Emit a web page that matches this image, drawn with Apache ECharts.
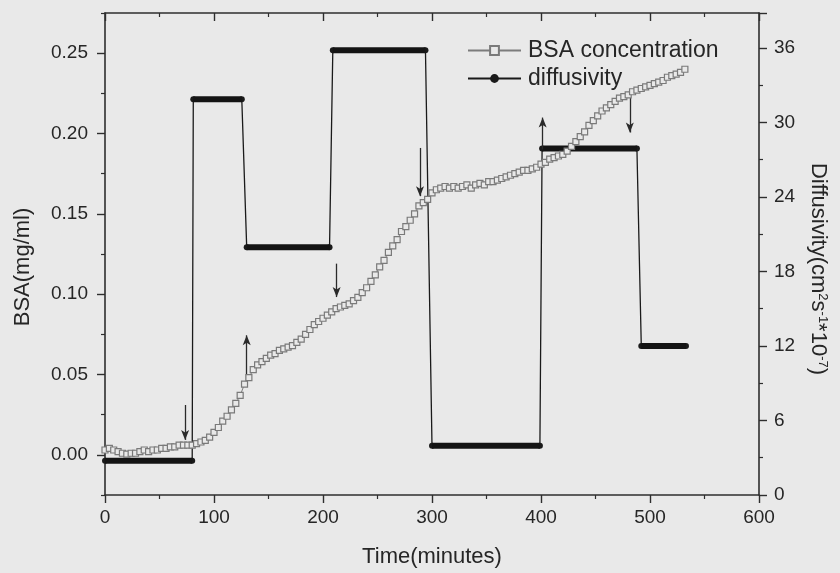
<!DOCTYPE html>
<html>
<head>
<meta charset="utf-8">
<script src="https://cdn.jsdelivr.net/npm/echarts@6/dist/echarts.min.js"></script>
<style>
html,body{margin:0;padding:0;background:#e9e9e9;}
#chart{width:840px;height:573px;}
</style>
</head>
<body>
<div id="chart"></div>
<script>
// BSA concentration (mg/ml) vs time (minutes)
const bsaTime = [0,4,8,12,16,20,24,28,32,36,40,44,48,52,56,60,64,68,72,76,80,84,88,92,96,100,104,108,112,116,120,124,128,132,136,140,144,148,152,156,160,164,168,172,176,180,184,188,192,196,200,204,208,212,216,220,224,228,232,236,240,244,248,252,256,260,264,268,272,276,280,284,288,292,296,300,304,308,312,316,320,324,328,332,336,340,344,348,352,356,360,364,368,372,376,380,384,388,392,396,400,404,408,412,416,420,424,428,432,436,440,444,448,452,456,460,464,468,472,476,480,484,488,492,496,500,504,508,512,516,520,524,528,532];
const bsaValue = [0.003,0.004,0.003,0.002,0.001,0.0005,0.001,0.001,0.002,0.003,0.002,0.003,0.003,0.004,0.004,0.005,0.005,0.006,0.006,0.006,0.006,0.007,0.008,0.009,0.011,0.014,0.017,0.021,0.024,0.028,0.032,0.037,0.044,0.048,0.053,0.056,0.058,0.060,0.062,0.063,0.065,0.066,0.067,0.068,0.070,0.072,0.075,0.078,0.081,0.083,0.085,0.087,0.089,0.091,0.092,0.093,0.094,0.096,0.098,0.101,0.104,0.108,0.112,0.117,0.121,0.126,0.130,0.134,0.139,0.142,0.146,0.150,0.155,0.157,0.159,0.163,0.165,0.166,0.167,0.166,0.167,0.166,0.167,0.168,0.166,0.168,0.169,0.168,0.170,0.170,0.171,0.172,0.173,0.174,0.175,0.176,0.177,0.177,0.178,0.179,0.181,0.182,0.184,0.185,0.186,0.187,0.189,0.192,0.195,0.198,0.201,0.205,0.208,0.211,0.214,0.216,0.218,0.220,0.222,0.223,0.224,0.226,0.227,0.228,0.229,0.230,0.231,0.232,0.233,0.235,0.236,0.237,0.238,0.240];

// Diffusivity (cm^2 s^-1 * 1e-7): segment start/end points (pairs form flat segments)
const diffTime = [0,80,81,125.5,130,206,209,294,300,399,401,488,492,533];
const diffValue = [2.75,2.75,31.85,31.85,19.95,19.95,35.8,35.8,3.97,3.97,27.9,27.9,12.0,12.0];

// Arrows (time, BSA from -> to)
const arrowTime = [73.5,130,212.5,289,401.5,481.5];
const arrowFrom = [0.031,0.0455,0.119,0.191,0.190,0.2223];
const arrowTo = [0.0093,0.0744,0.0982,0.161,0.2099,0.2006];

// Tick labels
const xTicks = [0,100,200,300,400,500,600];
const leftMajorTicks = [0,0.05,0.10,0.15,0.20,0.25];
const leftMinorTicks = [-0.025,0.025,0.075,0.125,0.175,0.225,0.275];
const rightTicks = [0,6,12,18,24,30,36];

const FONT = "'Liberation Sans', Arial, sans-serif";
const TXT = '#262626';
const AX = '#2e2e2e';

const bsaData = bsaTime.map((t,i)=>[t,bsaValue[i]]);
const diffData = diffTime.map((t,i)=>[t,diffValue[i]]);
const diffBars = [];
for (let i=0;i+1<diffTime.length;i+=2){
  diffBars.push([diffTime[i],diffValue[i]]);
  diffBars.push([diffTime[i+1],diffValue[i+1]]);
  diffBars.push([diffTime[i+1],'-']);
}
const arrowLines = arrowTime.map((t,i)=>[{coord:[t,arrowFrom[i]]},{coord:[t,arrowTo[i]]}]);

const chart = echarts.init(document.getElementById('chart'));
chart.setOption({
  animation:false,
  backgroundColor:'#e9e9e9',
  textStyle:{fontFamily:FONT},
  grid:{left:105,right:81,top:13,bottom:78},
  legend:{
    orient:'vertical', left:462, top:34, itemGap:5,
    itemWidth:53, itemHeight:11,
    textStyle:{fontSize:23,color:TXT,fontFamily:FONT,padding:[0,0,0,2]},
    data:['BSA concentration','diffusivity']
  },
  xAxis:[{
    type:'value', min:0, max:600, interval:100, position:'bottom',
    name:'Time(minutes)', nameLocation:'middle', nameGap:51,
    nameTextStyle:{fontSize:22,color:TXT,fontFamily:FONT},
    axisLine:{show:true,onZero:false,lineStyle:{color:AX,width:1.6}},
    axisTick:{show:true,inside:false,length:8,lineStyle:{color:AX,width:1.4}},
    minorTick:{show:true,splitNumber:2,length:4,lineStyle:{color:AX,width:1.2}},
    axisLabel:{fontSize:19,color:TXT,margin:13,customValues:xTicks,formatter:v=>String(v)},
    splitLine:{show:false}
  },{
    type:'value', min:0, max:600, interval:100, position:'top',
    axisLine:{show:true,onZero:false,lineStyle:{color:AX,width:1.6}},
    axisTick:{show:true,inside:true,length:8,lineStyle:{color:AX,width:1.4}},
    minorTick:{show:true,splitNumber:2,length:4,lineStyle:{color:AX,width:1.2}},
    axisLabel:{show:false},
    splitLine:{show:false}
  }],
  yAxis:[{
    type:'value', min:-0.025, max:0.275, position:'left',
    name:'BSA(mg/ml)', nameLocation:'middle', nameGap:71,
    nameTextStyle:{fontSize:22,color:TXT,fontFamily:FONT,padding:[0,26,0,0]},
    axisLine:{show:true,onZero:false,lineStyle:{color:AX,width:1.6}},
    axisTick:{show:true,inside:false,length:8,customValues:leftMajorTicks,lineStyle:{color:AX,width:1.4}},
    axisLabel:{fontSize:19,color:TXT,margin:17,customValues:leftMajorTicks,formatter:v=>v.toFixed(2)},
    splitLine:{show:false}
  },{
    type:'value', min:0, max:38.8, interval:6, position:'right',
    name:'Diffusivity(cm{s|2}s{s|-1}*10{s|-7})', nameLocation:'middle', nameGap:48, nameRotate:-90,
    nameTextStyle:{fontSize:22,color:TXT,fontFamily:FONT,padding:[0,0,0,30],
      rich:{s:{fontSize:13,color:TXT,fontFamily:FONT,verticalAlign:'top',lineHeight:22}}},
    axisLine:{show:true,onZero:false,lineStyle:{color:AX,width:1.6}},
    axisTick:{show:true,inside:false,length:8,lineStyle:{color:AX,width:1.4}},
    minorTick:{show:true,splitNumber:2,length:4,lineStyle:{color:AX,width:1.2}},
    axisLabel:{fontSize:19,color:TXT,margin:15,customValues:rightTicks,formatter:v=>String(v)},
    splitLine:{show:false}
  },{
    type:'value', min:-0.025, max:0.275, position:'left',
    axisLine:{show:false,onZero:false},
    axisTick:{show:true,inside:false,length:4,customValues:leftMinorTicks,lineStyle:{color:AX,width:1.2}},
    axisLabel:{show:false},
    splitLine:{show:false}
  }],
  series:[{
    name:'diffusivity', type:'line', xAxisIndex:0, yAxisIndex:1,
    data:diffData, symbol:'circle', symbolSize:6, showSymbol:true,
    lineStyle:{color:'#1a1a1a',width:1.3},
    itemStyle:{color:'#1a1a1a'},
    z:3
  },{
    name:'diffBars', type:'line', xAxisIndex:0, yAxisIndex:1,
    data:diffBars, symbol:'none', connectNulls:false,
    lineStyle:{color:'#141414',width:6,cap:'butt'},
    z:4, silent:true
  },{
    name:'BSA concentration', type:'line', xAxisIndex:0, yAxisIndex:0,
    data:bsaData, symbol:'rect', symbolSize:6,
    lineStyle:{color:'#7c7c7c',width:1},
    itemStyle:{color:'#e9e9e9',borderColor:'#7a7a7a',borderWidth:1.2},
    z:5,
    markLine:{
      silent:true, symbol:['none','arrow'], symbolSize:[6,10],
      label:{show:false},
      lineStyle:{color:'#2a2a2a',width:1.3,type:'solid'},
      itemStyle:{color:'#2a2a2a'},
      emphasis:{disabled:true},
      data:arrowLines
    }
  }]
});
</script>
</body>
</html>
